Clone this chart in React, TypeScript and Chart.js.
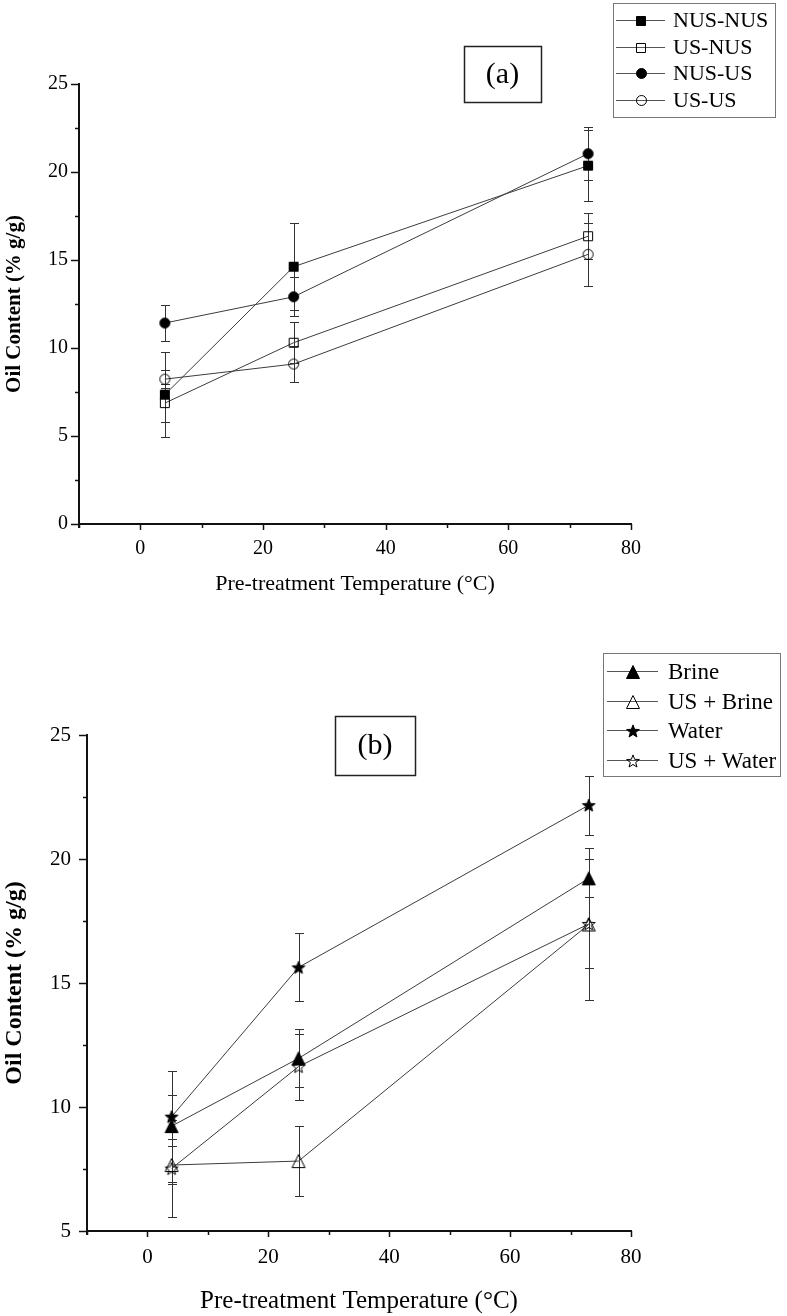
import React, { useEffect, useRef } from 'react';
import { Chart, registerables } from 'chart.js';

Chart.register(...registerables);

// ---------- data ----------
const temperatures = [4, 25, 73];

// chart (a)
const labelsA = ['NUS-NUS', 'US-NUS', 'NUS-US', 'US-US'];
const nusNus = [7.35, 14.62, 20.36];
const nusNusErr = [2.4, 2.48, 2.0];
const usNus = [6.87, 10.3, 16.35];
const usNusErr = [1.1, 1.16, 1.3];
const nusUs = [11.42, 12.91, 21.04];
const nusUsErr = [1.02, 1.12, 1.5];
const usUs = [8.23, 9.09, 15.32];
const usUsErr = [0.5, 1.05, 1.8];

// chart (b)
const labelsB = ['Brine', 'US + Brine', 'Water', 'US + Water'];
const brine = [9.23, 11.96, 19.22];
const brineErr = [2.24, 1.17, 0.76];
const usBrine = [7.66, 7.82, 17.36];
const usBrineErr = [0.75, 1.4, 1.76];
const water = [9.61, 15.63, 22.17];
const waterErr = [0.89, 1.37, 1.19];
const usWater = [7.52, 11.63, 17.38];
const usWaterErr = [1.96, 1.33, 3.07];

const xTicksMajor = [0, 20, 40, 60, 80];

const SERIF = '"Liberation Serif", "Times New Roman", serif';

// ---------- markers ----------
function makeMarker(kind: string, filled: boolean, size: number): HTMLCanvasElement {
  const c = document.createElement('canvas');
  const d = Math.ceil(size) + 2;
  c.width = d;
  c.height = d;
  const ctx = c.getContext('2d')!;
  const cx = d / 2;
  const cy = d / 2;
  const r = size / 2;
  ctx.lineWidth = 1;
  ctx.strokeStyle = '#000';
  ctx.fillStyle = '#000';
  ctx.beginPath();
  if (kind === 'square') {
    ctx.rect(cx - r + 0.5, cy - r + 0.5, size - 1, size - 1);
  } else if (kind === 'circle') {
    ctx.arc(cx, cy, r - 0.5, 0, Math.PI * 2);
  } else if (kind === 'triangle') {
    ctx.moveTo(cx, cy - r + 0.5);
    ctx.lineTo(cx + r - 0.5, cy + r - 0.5);
    ctx.lineTo(cx - r + 0.5, cy + r - 0.5);
    ctx.closePath();
  } else if (kind === 'star') {
    for (let i = 0; i < 10; i++) {
      const ang = -Math.PI / 2 + (i * Math.PI) / 5;
      const rr = i % 2 === 0 ? r - 0.3 : (r - 0.3) * 0.42;
      const px = cx + rr * Math.cos(ang);
      const py = cy + 0.6 + rr * Math.sin(ang);
      if (i === 0) ctx.moveTo(px, py);
      else ctx.lineTo(px, py);
    }
    ctx.closePath();
  }
  if (filled) ctx.fill();
  ctx.stroke();
  return c;
}

// ---------- plugins ----------
const errorBarPlugin = {
  id: 'errorBars',
  beforeDatasetsDraw(chart: any, _args: any, opts: any) {
    const { ctx } = chart;
    const xs = chart.scales.x;
    const ys = chart.scales.y;
    const cap = opts.cap || 5;
    ctx.save();
    ctx.strokeStyle = '#333';
    ctx.lineWidth = 1;
    (opts.errors || []).forEach((errs: number[], di: number) => {
      const ds = chart.data.datasets[di];
      ds.data.forEach((p: any, i: number) => {
        const px = Math.round(xs.getPixelForValue(p.x)) + 0.5;
        const top = Math.round(ys.getPixelForValue(p.y + errs[i])) + 0.5;
        const bot = Math.round(ys.getPixelForValue(p.y - errs[i])) + 0.5;
        ctx.beginPath();
        ctx.moveTo(px, top);
        ctx.lineTo(px, bot);
        ctx.moveTo(px - cap, top);
        ctx.lineTo(px + cap, top);
        ctx.moveTo(px - cap, bot);
        ctx.lineTo(px + cap, bot);
        ctx.stroke();
      });
    });
    ctx.restore();
  },
};

const decorPlugin = {
  id: 'decor',
  afterDraw(chart: any, _args: any, opts: any) {
    const { ctx, chartArea } = chart;
    const xs = chart.scales.x;
    const ys = chart.scales.y;
    const { left, right, top, bottom } = chartArea;
    ctx.save();
    ctx.strokeStyle = '#111';
    // ticks
    ctx.lineWidth = 1.5;
    for (let v = -10; v <= 80; v += 10) {
      const px = Math.round(xs.getPixelForValue(v)) + 0.5;
      const len = v % 20 === 0 ? 6 : 4;
      ctx.beginPath();
      ctx.moveTo(px, bottom);
      ctx.lineTo(px, bottom + len);
      ctx.stroke();
    }
    for (let v = opts.yMin; v <= opts.yMax + 0.001; v += 2.5) {
      const py = Math.round(ys.getPixelForValue(v)) + 0.5;
      const len = Math.abs(v % 5) < 0.001 ? 8 : 4;
      ctx.beginPath();
      ctx.moveTo(left, py);
      ctx.lineTo(left - len, py);
      ctx.stroke();
    }
    // axis lines
    ctx.lineWidth = 2;
    ctx.beginPath();
    ctx.moveTo(left - 1, bottom);
    ctx.lineTo(right + 1, bottom);
    ctx.stroke();
    ctx.beginPath();
    ctx.moveTo(left, top - 1);
    ctx.lineTo(left, bottom + 4);
    ctx.stroke();

    // panel label box
    const lb = opts.labelBox;
    ctx.lineWidth = 1.5;
    ctx.strokeStyle = '#222';
    ctx.strokeRect(lb.x + 0.5, lb.y + 0.5, lb.w, lb.h);
    ctx.fillStyle = '#000';
    ctx.font = `${lb.size}px ${SERIF}`;
    ctx.textAlign = 'center';
    ctx.textBaseline = 'middle';
    ctx.fillText(lb.text, lb.x + lb.w / 2, lb.y + lb.h / 2 + 1);

    // legend
    const lg = opts.legend;
    ctx.lineWidth = 1;
    ctx.strokeStyle = '#777';
    ctx.strokeRect(lg.x + 0.5, lg.y + 0.5, lg.w, lg.h);
    ctx.font = `${lg.size}px ${SERIF}`;
    ctx.textAlign = 'left';
    ctx.textBaseline = 'middle';
    lg.items.forEach((it: any, i: number) => {
      const ry = Math.round(lg.rows[i]) + 0.5;
      ctx.strokeStyle = '#555';
      ctx.lineWidth = 1;
      ctx.beginPath();
      ctx.moveTo(lg.lineX1, ry);
      ctx.lineTo(lg.lineX2, ry);
      ctx.stroke();
      const m = it.marker as HTMLCanvasElement;
      ctx.drawImage(m, Math.round(lg.markX - m.width / 2), Math.round(ry - m.height / 2));
      ctx.fillStyle = '#000';
      ctx.fillText(it.label, lg.textX, ry + 1);
    });
    ctx.restore();
  },
};

function pts(vals: number[]) {
  return temperatures.map((t, i) => ({ x: t, y: vals[i] }));
}

function lineDs(label: string, vals: number[], marker: HTMLCanvasElement) {
  return {
    label,
    data: pts(vals),
    borderColor: '#3c3c3c',
    backgroundColor: '#000',
    borderWidth: 1,
    pointStyle: marker,
    pointRadius: 6,
    tension: 0,
    fill: false,
    clip: false as any,
  };
}

function buildConfig(p: any): any {
  return {
    type: 'line',
    data: { datasets: p.datasets },
    options: {
      responsive: false,
      animation: false,
      events: [],
      layout: { padding: p.padding },
      plugins: {
        legend: { display: false },
        tooltip: { enabled: false },
        errorBars: { errors: p.errors, cap: 4.5 },
        decor: p.decor,
      },
      scales: {
        x: {
          type: 'linear',
          min: -10,
          max: 80,
          afterBuildTicks: (scale: any) => {
            scale.ticks = xTicksMajor.map((v) => ({ value: v }));
          },
          grid: { display: false, drawTicks: false },
          border: { display: false },
          ticks: {
            padding: p.xTickPad,
            color: '#000',
            font: { family: SERIF, size: p.tickSize },
            maxRotation: 0,
            autoSkip: false,
          },
          title: {
            display: true,
            text: 'Pre-treatment Temperature (°C)',
            color: '#000',
            font: { family: SERIF, size: p.xTitleSize },
            padding: { top: 0, bottom: p.xTitlePadBottom },
          },
          afterFit: (scale: any) => {
            scale.height = p.xHeight;
          },
        },
        y: {
          type: 'linear',
          min: p.yMin,
          max: p.yMax,
          ticks: {
            stepSize: 5,
            padding: p.yTickPad,
            color: '#000',
            font: { family: SERIF, size: p.tickSize },
          },
          grid: { display: false, drawTicks: false },
          border: { display: false },
          title: {
            display: true,
            text: 'Oil Content (% g/g)',
            color: '#000',
            font: { family: SERIF, size: p.yTitleSize, weight: 'bold' },
            padding: { top: p.yTitlePadTop, bottom: 0 },
          },
          afterFit: (scale: any) => {
            scale.width = p.yWidth;
          },
        },
      },
    },
    plugins: [errorBarPlugin, decorPlugin],
  };
}

function ChartCanvas(props: { makeConfig: () => any; width: number; height: number; top: number }) {
  const ref = useRef<HTMLCanvasElement>(null);
  useEffect(() => {
    const chart = new Chart(ref.current as HTMLCanvasElement, props.makeConfig());
    return () => chart.destroy();
  }, []);
  return (
    <canvas
      ref={ref}
      width={props.width}
      height={props.height}
      style={{ position: 'absolute', left: 0, top: props.top, width: props.width, height: props.height, display: 'block' }}
    />
  );
}

function configA() {
  const mk = {
    nusNus: makeMarker('square', true, 10),
    usNus: makeMarker('square', false, 10),
    nusUs: makeMarker('circle', true, 11),
    usUs: makeMarker('circle', false, 11),
  };
  return buildConfig({
    datasets: [
      lineDs(labelsA[0], nusNus, mk.nusNus),
      lineDs(labelsA[1], usNus, mk.usNus),
      lineDs(labelsA[2], nusUs, mk.nusUs),
      lineDs(labelsA[3], usUs, mk.usUs),
    ],
    errors: [nusNusErr, usNusErr, nusUsErr, usUsErr],
    padding: { left: 0, right: 156, top: 84, bottom: 0 },
    yMin: 0,
    yMax: 25,
    xHeight: 96,
    yWidth: 79,
    tickSize: 20,
    xTickPad: 13,
    yTickPad: 11,
    xTitleSize: 22,
    xTitlePadBottom: 23,
    yTitleSize: 21,
    yTitlePadTop: 2,
    decor: {
      yMin: 0,
      yMax: 25,
      labelBox: { x: 464, y: 46, w: 77, h: 56, text: '(a)', size: 30 },
      legend: {
        x: 613,
        y: 3,
        w: 162,
        h: 114,
        size: 22,
        rows: [20, 46.5, 73, 100],
        lineX1: 616,
        lineX2: 665,
        markX: 641,
        textX: 673,
        items: [
          { label: labelsA[0], marker: mk.nusNus },
          { label: labelsA[1], marker: mk.usNus },
          { label: labelsA[2], marker: mk.nusUs },
          { label: labelsA[3], marker: mk.usUs },
        ],
      },
    },
  });
}

function configB() {
  const mk = {
    brine: makeMarker('triangle', true, 14),
    usBrine: makeMarker('triangle', false, 14),
    water: makeMarker('star', true, 14),
    usWater: makeMarker('star', false, 14),
  };
  return buildConfig({
    datasets: [
      lineDs(labelsB[0], brine, mk.brine),
      lineDs(labelsB[1], usBrine, mk.usBrine),
      lineDs(labelsB[2], water, mk.water),
      lineDs(labelsB[3], usWater, mk.usWater),
    ],
    errors: [brineErr, usBrineErr, waterErr, usWaterErr],
    padding: { left: 0, right: 156, top: 95, bottom: 0 },
    yMin: 5,
    yMax: 25,
    xHeight: 85,
    yWidth: 87,
    tickSize: 21,
    xTickPad: 14,
    yTickPad: 16,
    xTitleSize: 25,
    xTitlePadBottom: 0,
    yTitleSize: 24,
    yTitlePadTop: 0,
    decor: {
      yMin: 5,
      yMax: 25,
      labelBox: { x: 335, y: 76, w: 80, h: 59, text: '(b)', size: 30 },
      legend: {
        x: 603,
        y: 13,
        w: 177,
        h: 123,
        size: 23,
        rows: [31, 60.5, 90, 119.5],
        lineX1: 607,
        lineX2: 658,
        markX: 633,
        textX: 668,
        items: [
          { label: labelsB[0], marker: mk.brine },
          { label: labelsB[1], marker: mk.usBrine },
          { label: labelsB[2], marker: mk.water },
          { label: labelsB[3], marker: mk.usWater },
        ],
      },
    },
  });
}

export default function App() {
  return (
    <div style={{ position: 'absolute', left: 0, top: 0, width: 787, height: 1316, background: '#fff' }}>
      <ChartCanvas makeConfig={configA} width={787} height={620} top={0} />
      <ChartCanvas makeConfig={configB} width={787} height={676} top={640} />
    </div>
  );
}
